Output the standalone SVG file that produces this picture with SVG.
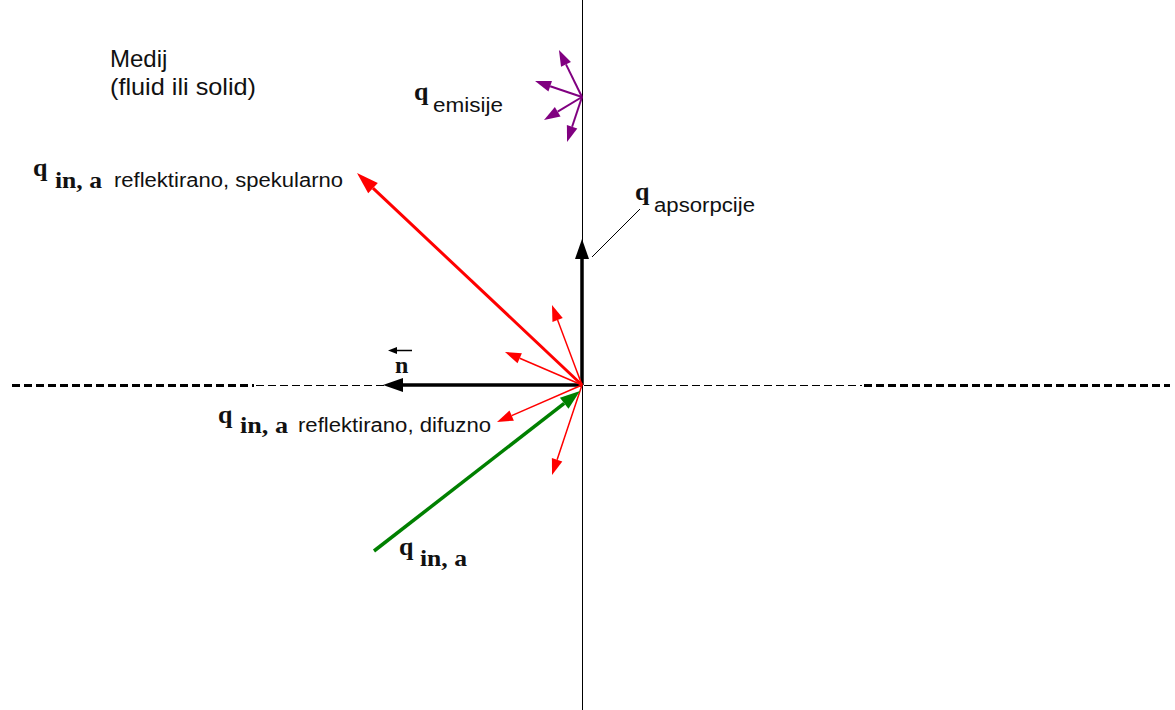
<svg xmlns="http://www.w3.org/2000/svg" width="1175" height="710" viewBox="0 0 1175 710">
<style>
.lbl{font-family:"Liberation Sans",Arial,sans-serif;font-size:20px;fill:#111}
.big{font-family:"Liberation Sans",Arial,sans-serif;font-size:24px;fill:#111}
.q{font-family:"Liberation Serif","Times New Roman",serif;font-weight:bold;font-size:26px;fill:#111}
.ina{font-family:"Liberation Serif","Times New Roman",serif;font-weight:bold;font-size:24px;fill:#111}
.thin{stroke:#000;stroke-width:1;fill:none}
.dthick{stroke:#000;stroke-width:3;stroke-dasharray:8 4;fill:none}
.dthin{stroke:#000;stroke-width:1;stroke-dasharray:8 4;fill:none}
.blk{stroke:#000;stroke-width:3.5;fill:none}
.redB{stroke:#f00;stroke-width:3;fill:none}
.redS{stroke:#f00;stroke-width:1.5;fill:none}
.grn{stroke:#008000;stroke-width:3.5;fill:none}
.pur{stroke:#800080;stroke-width:2;fill:none}
.nar{stroke:#000;stroke-width:1.5;fill:none}
</style>
<defs>
<marker id="mBlk" markerUnits="userSpaceOnUse" markerWidth="20" markerHeight="14" refX="0" refY="7" orient="auto" overflow="visible"><path d="M0,0 L20,7 L0,14 z" fill="#000"/></marker>
<marker id="mN" markerUnits="userSpaceOnUse" markerWidth="9" markerHeight="7" refX="0" refY="3.5" orient="auto" overflow="visible"><path d="M0,0 L9,3.5 L0,7 z" fill="#000"/></marker>
<marker id="mRedB" markerUnits="userSpaceOnUse" markerWidth="22" markerHeight="14" refX="0" refY="7" orient="auto" overflow="visible"><path d="M0,0 L22,7 L0,14 z" fill="#f00"/></marker>
<marker id="mRedS" markerUnits="userSpaceOnUse" markerWidth="16" markerHeight="11" refX="0" refY="5.5" orient="auto" overflow="visible"><path d="M0,0 L16,5.5 L0,11 z" fill="#f00"/></marker>
<marker id="mGrn" markerUnits="userSpaceOnUse" markerWidth="20" markerHeight="14" refX="0" refY="7" orient="auto" overflow="visible"><path d="M0,0 L20,7 L0,14 z" fill="#008000"/></marker>
<marker id="mPur" markerUnits="userSpaceOnUse" markerWidth="16" markerHeight="11" refX="0" refY="5.5" orient="auto" overflow="visible"><path d="M0,0 L16,5.5 L0,11 z" fill="#800080"/></marker>
</defs>
<rect width="1175" height="710" fill="#fff"/>
<g id="connectors">
  <line class="thin" x1="582.5" y1="0" x2="582.5" y2="710"/>
  <line class="dthick" x1="12" y1="385.5" x2="254" y2="385.5"/>
  <line class="dthin" x1="256" y1="385.5" x2="384" y2="385.5"/>
  <line class="dthin" x1="584" y1="385.5" x2="862" y2="385.5"/>
  <line class="dthick" x1="864" y1="385.5" x2="1170" y2="385.5"/>
  <line class="blk" x1="582" y1="385" x2="403" y2="385" marker-end="url(#mBlk)"/>
  <line class="blk" x1="582" y1="385" x2="582" y2="259" marker-end="url(#mBlk)"/>
  <line class="thin" x1="592" y1="257" x2="640" y2="209"/>
  <line class="redB" x1="582" y1="385" x2="373" y2="188.1" marker-end="url(#mRedB)"/>
  <line class="redS" x1="582" y1="385" x2="557.6" y2="320" marker-end="url(#mRedS)"/>
  <line class="redS" x1="582" y1="385" x2="519.7" y2="358.3" marker-end="url(#mRedS)"/>
  <line class="redS" x1="582" y1="385" x2="511.7" y2="415.6" marker-end="url(#mRedS)"/>
  <line class="redS" x1="582" y1="385" x2="557.1" y2="459.8" marker-end="url(#mRedS)"/>
  <line class="grn" x1="374" y1="551" x2="564.2" y2="403.3" marker-end="url(#mGrn)"/>
  <line class="pur" x1="582" y1="97" x2="566" y2="64.4" marker-end="url(#mPur)"/>
  <line class="pur" x1="582" y1="97" x2="550.2" y2="86.2" marker-end="url(#mPur)"/>
  <line class="pur" x1="582" y1="97" x2="557.7" y2="111.7" marker-end="url(#mPur)"/>
  <line class="pur" x1="582" y1="97" x2="572.1" y2="126.8" marker-end="url(#mPur)"/>
  <line class="nar" x1="412" y1="350.5" x2="397" y2="350.5" marker-end="url(#mN)"/>
</g>
<g id="medium-label">
  <text class="big" x="110" y="67">Medij</text>
  <text class="big" x="110" y="95" textLength="146" lengthAdjust="spacingAndGlyphs">(fluid ili solid)</text>
</g>
<g id="q-emisije">
  <text class="q" x="414" y="100">q</text>
  <text class="lbl" x="433" y="112" textLength="70" lengthAdjust="spacingAndGlyphs">emisije</text>
</g>
<g id="q-apsorpcije">
  <text class="q" x="635" y="200">q</text>
  <text class="lbl" x="654" y="212" textLength="101" lengthAdjust="spacingAndGlyphs">apsorpcije</text>
</g>
<g id="q-specular">
  <text class="q" x="33" y="176">q</text>
  <text class="ina" x="55" y="188" textLength="47" lengthAdjust="spacingAndGlyphs">in, a</text>
  <text class="lbl" x="114" y="187" textLength="229" lengthAdjust="spacingAndGlyphs">reflektirano, spekularno</text>
</g>
<g id="normal-label">
  <text class="ina" x="395" y="373">n</text>
</g>
<g id="q-diffuse">
  <text class="q" x="218" y="423">q</text>
  <text class="ina" x="240" y="433" textLength="48" lengthAdjust="spacingAndGlyphs">in, a</text>
  <text class="lbl" x="298" y="432" textLength="193" lengthAdjust="spacingAndGlyphs">reflektirano, difuzno</text>
</g>
<g id="q-incoming">
  <text class="q" x="399" y="555">q</text>
  <text class="ina" x="420" y="566" textLength="47" lengthAdjust="spacingAndGlyphs">in, a</text>
</g>
</svg>
